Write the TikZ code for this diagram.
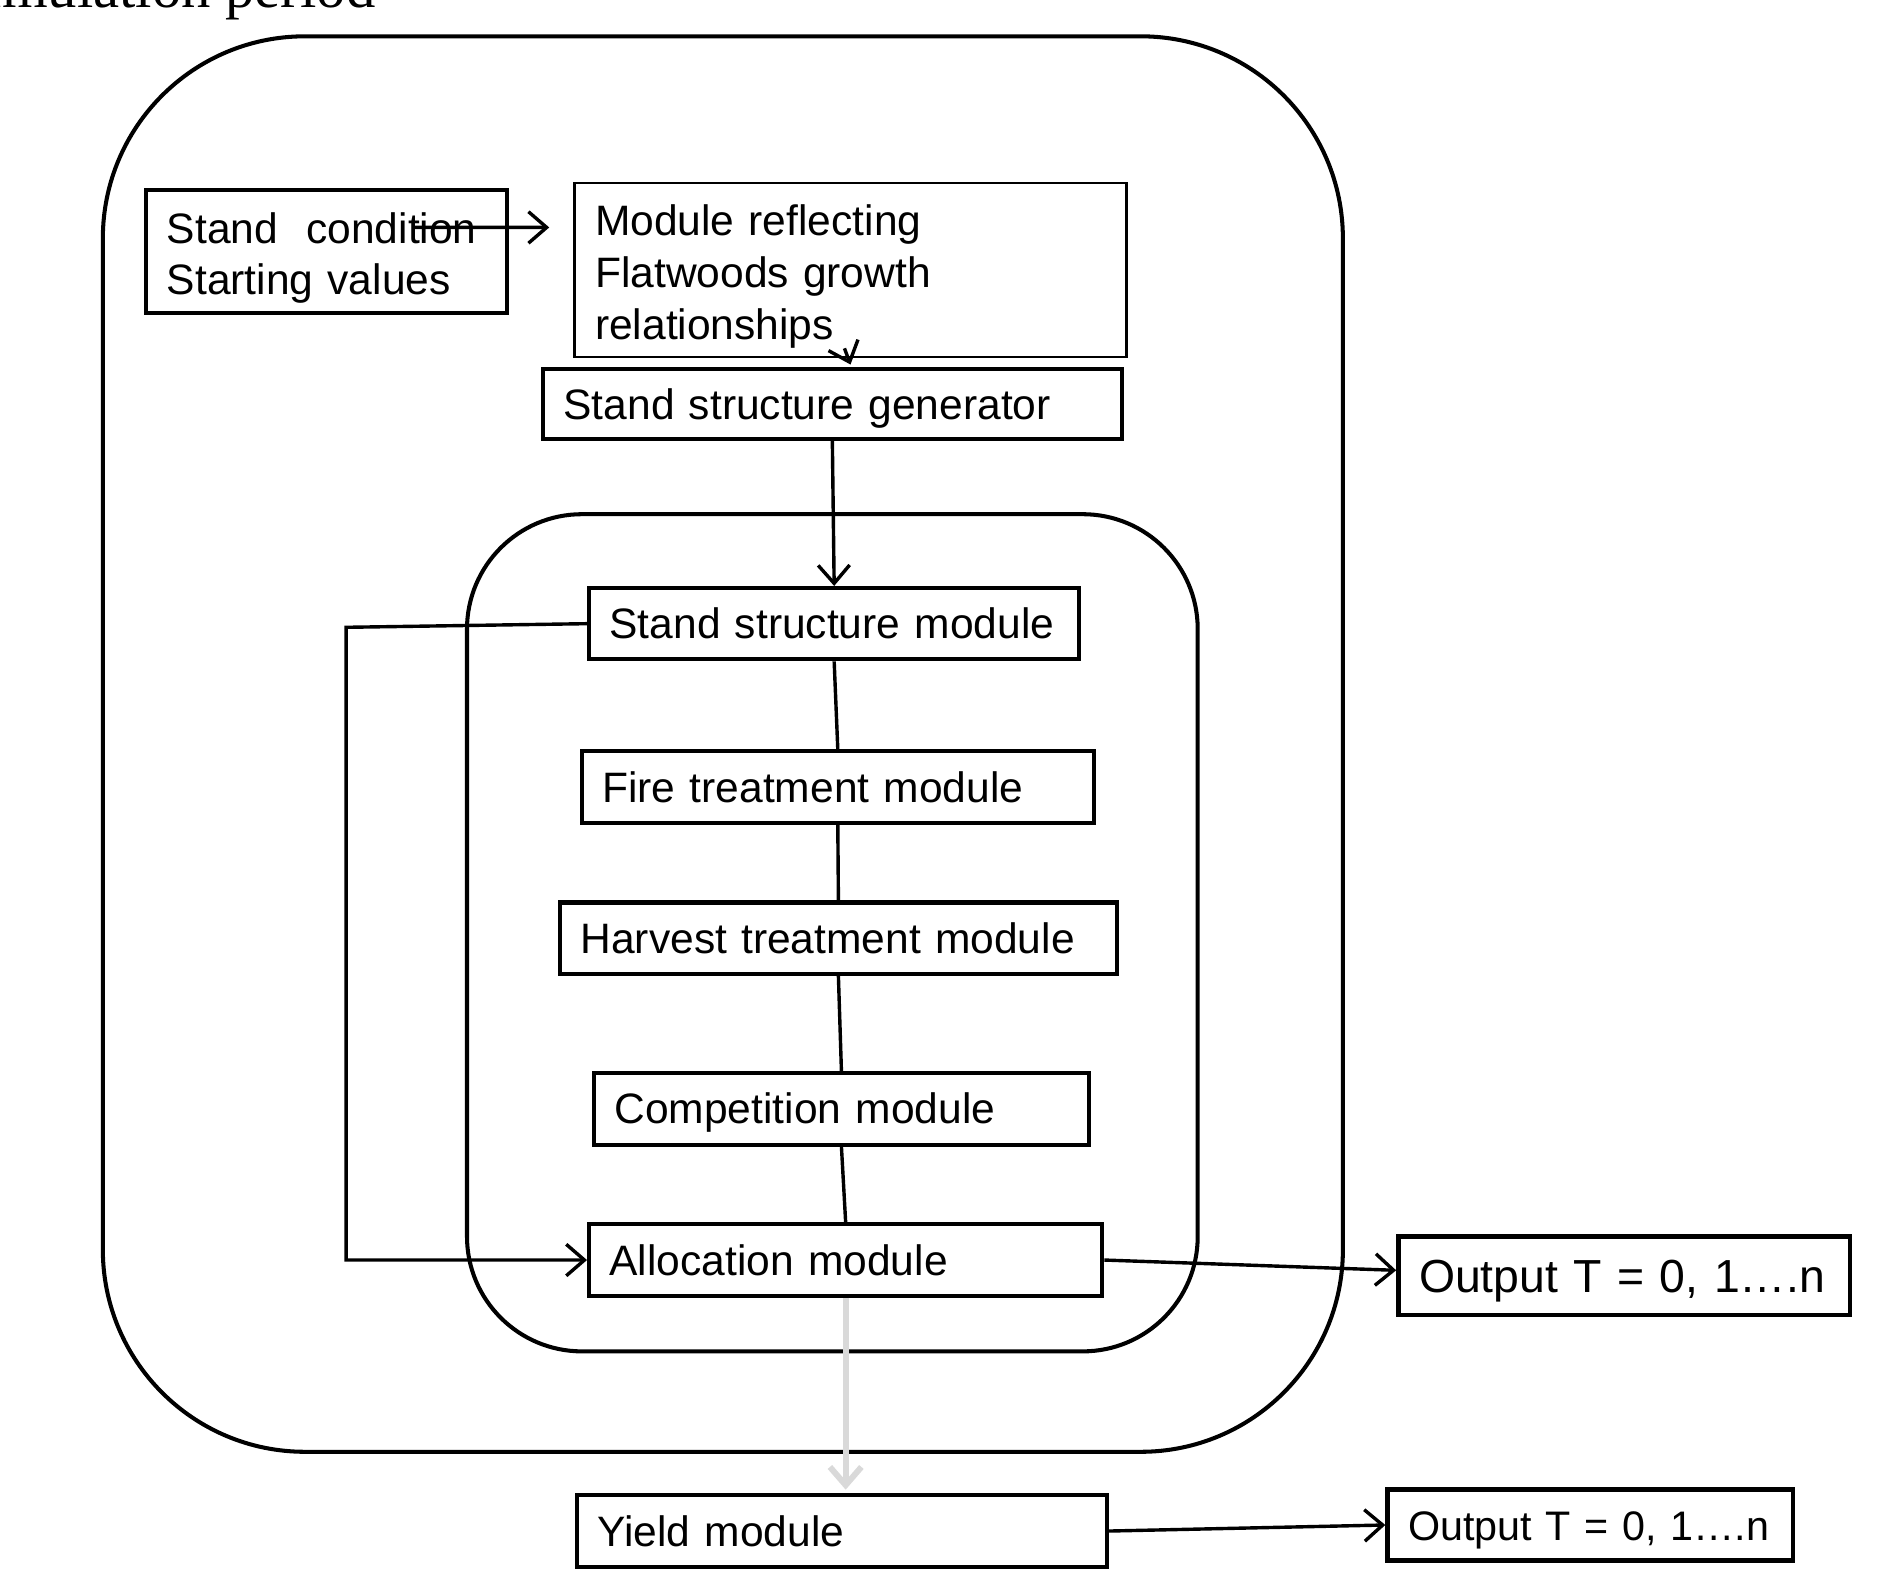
\documentclass[tikz,border=0pt]{standalone}
\usepackage{fontspec}
\setmainfont{Liberation Sans}
\newfontfamily\titlefont{Liberation Serif}
\usetikzlibrary{arrows.meta, positioning}
\newcommand{\upstrut}{\rule{0pt}{0.36cm}}
\tikzset{
  basebox/.style={draw, line width=0.95pt, align=left, inner xsep=0.17cm, inner ysep=0pt,
    font=\fontsize{10}{12.2}\selectfont},
  box/.style={basebox, text height=0.25cm, text depth=0cm},
  multibox/.style={basebox},
  thinbox/.style={multibox, line width=0.5pt},
  outbox/.style={box, line width=1.05pt},
  arr/.style={-{Straight Barb[length=0.15cm, width=0.26cm]}, line width=0.8pt},
  link/.style={line width=0.8pt},
  frame/.style={line width=0.95pt},
}

\begin{document}
\begin{tikzpicture}[x=0.01cm, y={(0,-0.01cm)}]
  \useasboundingbox (0,0) rectangle (1568,1299);
  % title, cut off at the top edge
  \node[anchor=base east, inner sep=0pt, font=\titlefont\fontsize{13.8}{16}\selectfont] (title) at (311,6) {Simulation period};
  % outer and inner loops
  \draw[frame, rounded corners=1.67cm] (85,30) rectangle (1110,1200);
  \draw[frame, rounded corners=0.95cm] (386,425) rectangle (990,1117);
  % input and growth boxes
  \node[multibox, text width=2.64cm, minimum height=1.02cm] (cond) at (270,208) {\upstrut Stand\ \ condition\\Starting values};
  \node[thinbox, text width=4.22cm, minimum height=1.44cm] (grow) at (703,223) {\upstrut Module reflecting\\Flatwoods growth\\relationships};
  \node[box, text width=4.44cm, minimum height=0.58cm] (gen) at (688,334) {Stand structure generator};
  % modules inside the inner loop
  \node[box, text width=3.71cm, minimum height=0.59cm] (ssm) at (689.5,515.5) {Stand structure module};
  \node[box, text width=3.89cm, minimum height=0.59cm] (fire) at (692.5,650.5) {Fire treatment module};
  \node[box, text width=4.26cm, minimum height=0.59cm] (harv) at (693,775.5) {Harvest treatment module};
  \node[box, text width=3.75cm, minimum height=0.59cm] (comp) at (695.5,916.5) {Competition module};
  \node[box, text width=3.90cm, minimum height=0.59cm] (alloc) at (699,1041.5) {Allocation module};
  % outputs and yield
  \node[outbox, text width=3.39cm, minimum height=0.65cm, text height=0.28cm, font=\fontsize{10.9}{13}\selectfont] (outA) at (1342.5,1054.5) {\mbox{Output T = 0, 1….n}};
  \node[box, text width=4.04cm, minimum height=0.59cm] (yield) at (696,1265.5) {Yield module};
  \node[outbox, text width=3.01cm, minimum height=0.59cm, font=\fontsize{9.7}{12}\selectfont] (outB) at (1314.5,1260.5) {\mbox{Output T = 0, 1….n}};
  % connectors
  \draw[arr] ([xshift=-0.79cm, yshift=0.2cm]cond.east) -- ([xshift=-0.2cm, yshift=0.35cm]grow.west);
  \draw[arr] ([xshift=-0.05cm, yshift=0.08cm]grow.south) -- ([xshift=0.15cm, yshift=0.02cm]gen.north);
  \draw[arr] (gen.south) -- (ssm.north);
  \draw[link] (ssm.south) -- (fire.north);
  \draw[link] (fire.south) -- (harv.north);
  \draw[link] (harv.south) -- (comp.north);
  \draw[link] (comp.south) -- (alloc.north);
  \draw[arr] (ssm.west) -- ++(-1.99cm,-0.03cm) |- (alloc.west);
  \draw[arr] (alloc.east) -- ([yshift=0.045cm]outA.west);
  \draw[arr, gray!30, line width=1.4pt] (alloc.south) -- ([yshift=0.03cm]alloc.south |- yield.north);
  \draw[arr] (yield.east) -- (outB.west);
\end{tikzpicture}
\end{document}
